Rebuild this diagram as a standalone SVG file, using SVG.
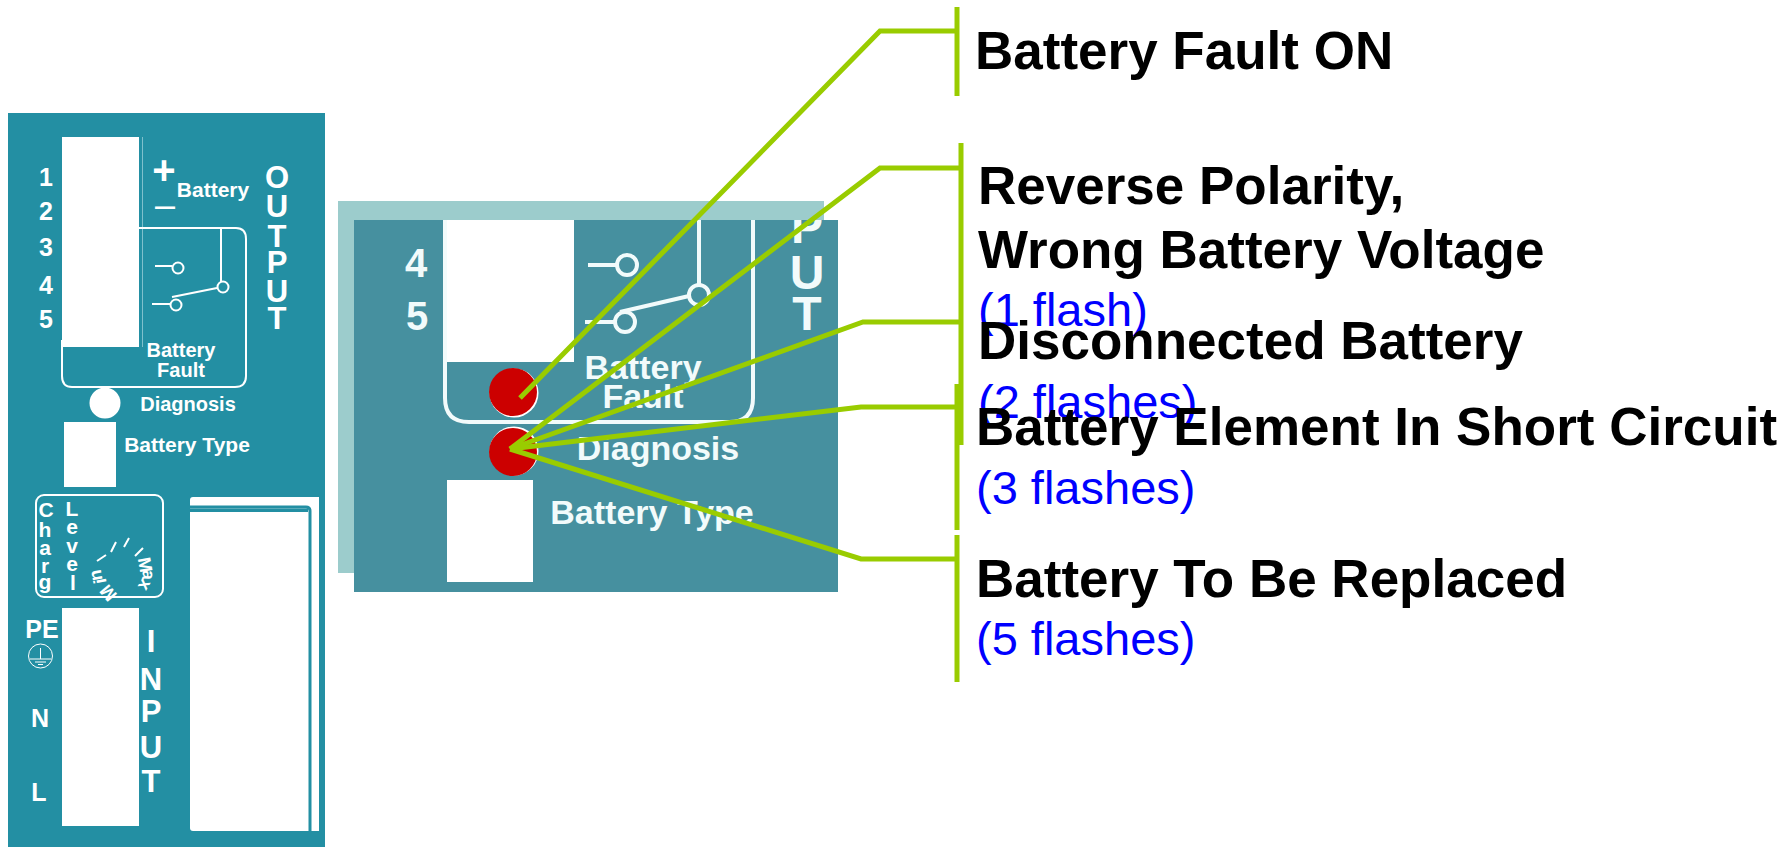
<svg xmlns="http://www.w3.org/2000/svg" width="1790" height="847" viewBox="0 0 1790 847">
<style>
text{font-family:"Liberation Sans",Arial,sans-serif}
.w{fill:#fff;font-weight:bold}
.m{text-anchor:middle}
.s{fill:none;stroke:#fff;stroke-width:2}
.z{fill:none;stroke:#f2fbfb;stroke-width:4}
.l{fill:none;stroke:#99cc00;stroke-width:5}
.h{fill:#000;font-weight:bold;font-size:53px}
.b{fill:#0000ff;font-size:47px}
.t1{font-size:25px}
.t2{font-size:20px}
.t4{font-size:21px}
.z1{fill:#f2fbfb;font-weight:bold;font-size:34px}
</style>
<defs><clipPath id="c"><rect x="354" y="220" width="484" height="372"/></clipPath></defs>
<g id="left-panel">
<rect x="8" y="113" width="317" height="734" fill="#238fa3"/>
<path d="M142.500 137V347" stroke="#7fc0cc" stroke-width="1"/>
<path class="s" d="M139 228H236Q246 228 246 239V376Q246 387 235 387H72Q62 387 62 376V340" stroke-width="2.500"/>
<rect x="62" y="137" width="77" height="210" fill="#fff"/>
<g class="w m">
<text class="t1" x="46" y="186">1</text><text class="t1" x="46" y="220">2</text><text class="t1" x="46" y="256">3</text><text class="t1" x="46" y="294">4</text><text class="t1" x="46" y="328">5</text>
<text x="164" y="184" font-size="40">+</text>
<text class="t4" x="213" y="197">Battery</text>
<text class="t2" x="181" y="357">Battery</text><text class="t2" x="181" y="377">Fault</text>
<text class="t2" x="188" y="411">Diagnosis</text><text class="t4" x="187" y="452">Battery Type</text>
<text font-size="31"><tspan x="277" y="188">O</tspan><tspan x="277" y="217">U</tspan><tspan x="277" y="247">T</tspan><tspan x="277" y="273">P</tspan><tspan x="277" y="302">U</tspan><tspan x="277" y="329">T</tspan></text>
</g>
<text x="165" y="217" font-size="36" fill="#fff" text-anchor="middle">–</text>
<path class="s" d="M155 266H172M221 227V282M172 297L217 288M152 304H170"/>
<circle class="s" cx="178" cy="268" r="5.500"/><circle class="s" cx="223" cy="287" r="5.500"/><circle class="s" cx="176" cy="305" r="5.500"/>
<circle cx="105" cy="403" r="15.500" fill="#fff"/>
<rect x="64" y="422" width="52" height="65" fill="#fff"/>
<rect class="s" x="36" y="495" width="127" height="102" rx="8" stroke-width="2.500"/>
<g class="w m t4">
<text x="46" y="517">C</text><text x="45" y="537">h</text><text x="45" y="555">a</text><text x="45" y="573">r</text><text x="45" y="589">g</text>
<text x="72" y="516">L</text><text x="72" y="534">e</text><text x="72" y="553">v</text><text x="72" y="571">e</text><text x="73" y="590">l</text>
</g>
<path class="s" d="M97 561L106 555M111 552L116 542M124 547L129 538M135 556L143 548" stroke-width="2.500"/>
<g class="w m" font-size="18">
<text transform="translate(139 566) rotate(80)">M</text><text transform="translate(142.500 574.600) rotate(95)">a</text><text transform="translate(140 582) rotate(120)">x</text>
<text transform="translate(113 589) rotate(-130)">M</text><text transform="translate(106 580) rotate(-100)">i</text><text transform="translate(101.500 574.300) rotate(-100)">n</text>
</g>
<rect x="62" y="608" width="77" height="218" fill="#fff"/>
<g class="w m">
<text class="t1" x="42" y="638">PE</text><text class="t1" x="40" y="727">N</text><text class="t1" x="39" y="801">L</text>
<text font-size="31"><tspan x="151" y="652">I</tspan><tspan x="151" y="690">N</tspan><tspan x="151" y="722">P</tspan><tspan x="151" y="758">U</tspan><tspan x="151" y="792">T</tspan></text>
</g>
<circle cx="40.500" cy="656" r="12" fill="none" stroke="#fff"/>
<path d="M40.500 648V659M30 659H51M35 662H46M38 664.500H43" stroke="#fff" fill="none"/>
<path d="M190 500Q190 497 193 497H319V831H193Q190 831 190 828Z" fill="#fff"/>
<path d="M190 507H306Q310 507 310 511V831" fill="none" stroke="#238fa3" stroke-width="3"/>
<rect x="190" y="508.500" width="118" height="3.500" fill="#238fa3"/>
</g>
<g id="detail-panel">
<rect x="338" y="201" width="486" height="372" fill="#9ccccc"/>
<rect x="354" y="220" width="484" height="372" fill="#46909f"/>
<g clip-path="url(#c)">
<rect x="443" y="220" width="131" height="142" fill="#fff"/>
<path class="z" d="M445 220V398Q445 422 469 422H729Q753 422 753 398V220"/>
<path class="z" d="M588 265H617M699 220V285M620 312L689 296M585 322H615"/>
<circle class="z" cx="627" cy="265" r="10"/><circle class="z" cx="699" cy="295" r="10"/><circle class="z" cx="625" cy="322" r="10"/>
<circle cx="514" cy="393" r="24.500" fill="#fff"/><circle cx="513" cy="392" r="24" fill="#cc0000"/>
<circle cx="514" cy="451" r="24.500" fill="#fff"/><circle cx="513" cy="452" r="24" fill="#cc0000"/>
<rect x="447" y="480" width="86" height="102" fill="#fff"/>
<g class="z1 m">
<text x="416" y="277" font-size="40">4</text><text x="417" y="330" font-size="40">5</text>
<text x="643" y="379">Battery</text><text x="643" y="408">Fault</text>
<text x="658" y="460">Diagnosis</text><text x="652" y="524">Battery Type</text>
<text x="807" y="243" font-size="48">P</text><text x="807" y="289" font-size="48">U</text><text x="807" y="330" font-size="48">T</text>
</g>
</g>
</g>
<g id="connectors">
<path class="l" d="M520 398L880 31H957"/>
<path class="l" d="M510 449L880 168H960"/>
<path class="l" d="M510 449L863 322H960"/>
<path class="l" d="M510 449L861 407H957"/>
<path class="l" d="M510 449L861 559H957"/>
<path class="l" d="M957 7V96"/>
<path class="l" d="M961 143V445"/>
<path class="l" d="M957 384V530"/>
<path class="l" d="M957 535V682"/>
</g>
<g id="callouts">
<text class="h" x="975" y="69">Battery Fault ON</text>
<text class="h" x="978" y="204">Reverse Polarity,</text>
<text class="h" x="978" y="268">Wrong Battery Voltage</text>
<text class="b" x="978" y="326">(1 flash)</text>
<text class="h" x="978" y="359">Disconnected Battery</text>
<text class="b" x="978" y="418">(2 flashes)</text>
<text class="h" x="976" y="445">Battery Element In Short Circuit</text>
<text class="b" x="976" y="504">(3 flashes)</text>
<text class="h" x="976" y="597">Battery To Be Replaced</text>
<text class="b" x="976" y="655">(5 flashes)</text>
</g>
</svg>
